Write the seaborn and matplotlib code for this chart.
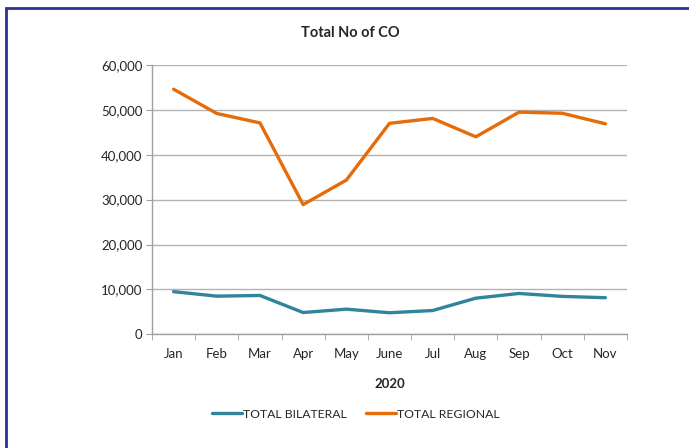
import matplotlib
matplotlib.use("Agg")
import matplotlib.pyplot as plt
import seaborn as sns
import pandas as pd
from matplotlib.patches import Rectangle
from matplotlib.ticker import FuncFormatter, FixedLocator

months = ["Jan", "Feb", "Mar", "Apr", "May", "June", "Jul", "Aug", "Sep", "Oct", "Nov"]
total_bilateral = [9500, 8500, 8650, 4850, 5600, 4800, 5300, 8050, 9100, 8450, 8150]
total_regional = [54600, 49200, 47100, 28900, 34350, 47000, 48100, 44000, 49500, 49250, 46900]
series_names = ["TOTAL BILATERAL", "TOTAL REGIONAL"]
colors = ["#31849B", "#E46C0A"]

df = pd.DataFrame({
    "Month": months * 2,
    "Value": total_bilateral + total_regional,
    "Series": [series_names[0]] * len(months) + [series_names[1]] * len(months),
})

sns.set_style("white")
plt.rcParams["font.family"] = ["Lato", "DejaVu Sans"]

fig = plt.figure(figsize=(6.89, 4.48), dpi=100)
ax = fig.add_axes([152 / 689, 1 - 334.3 / 448, (627 - 152) / 689, (334.3 - 65) / 448])

sns.lineplot(data=df, x="Month", y="Value", hue="Series", palette=colors,
             linewidth=2.4, ax=ax, sort=False, legend=True)

ax.set_ylim(0, 60000)
ax.set_xlim(-0.5, len(months) - 0.5)
ax.set_yticks(range(0, 60001, 10000))
ax.yaxis.set_major_formatter(FuncFormatter(lambda v, p: f"{int(v):,}"))
ax.grid(axis="y", color="#B3B3B3", linewidth=1)
ax.set_axisbelow(True)

for s in ["top", "right"]:
    ax.spines[s].set_visible(False)
ax.spines["left"].set_color("#A0A0A0")
ax.spines["bottom"].set_color("#A0A0A0")
ax.spines["left"].set_linewidth(1)
ax.spines["bottom"].set_linewidth(1)

ax.tick_params(axis="y", which="major", length=4, color="#A0A0A0", labelsize=9.5, pad=3, left=True)
ax.tick_params(axis="x", which="major", length=0, labelsize=9.5, pad=10)
ax.xaxis.set_minor_locator(FixedLocator([i - 0.5 for i in range(len(months) + 1)]))
ax.tick_params(axis="x", which="minor", length=4, color="#A0A0A0", bottom=True)

ax.set_xlabel("2020", fontsize=9.5, fontweight="bold", labelpad=13)
ax.set_ylabel("")

fig.text(350 / 689, 1 - 33 / 448, "Total No of CO", ha="center", va="center",
         fontsize=10.5, fontweight="bold")

handles, labels = ax.get_legend_handles_labels()
ax.legend(handles, labels, loc="center", bbox_to_anchor=(356 / 689, 1 - 414 / 448),
          bbox_transform=fig.transFigure, ncol=2, frameon=False, fontsize=8.8,
          handlelength=2.4, handletextpad=0.1, columnspacing=1.6)

fig.patches.append(Rectangle((6 / 689, -0.1), 1.2, 1 - 8 / 448 + 0.1,
                             transform=fig.transFigure, fill=False,
                             edgecolor="#2E3192", linewidth=2, zorder=10))

fig.savefig("out.png", dpi=100)
